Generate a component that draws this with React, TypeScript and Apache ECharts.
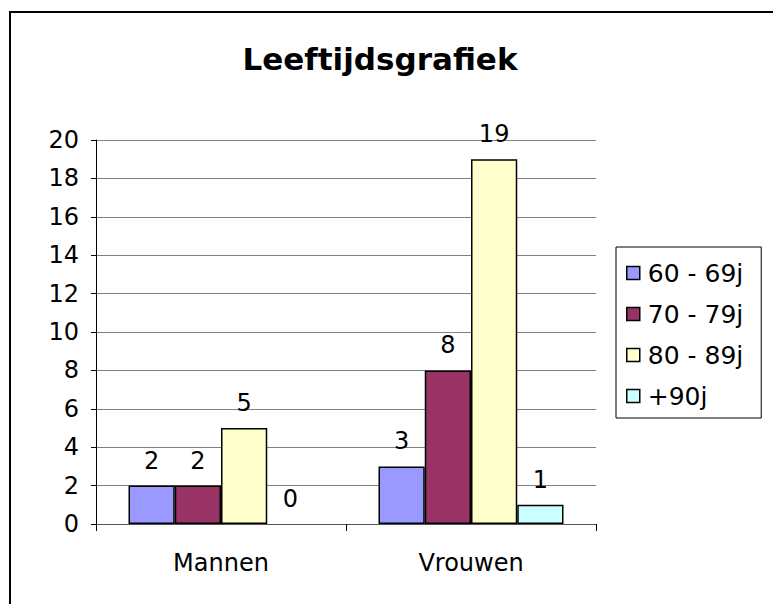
import React, { useEffect, useRef } from "react";
import * as echarts from "echarts";

const title = "Leeftijdsgrafiek";
const categories = ["Mannen", "Vrouwen"];
const seriesNames = ["60 - 69j", "70 - 79j", "80 - 89j", "+90j"];
const values60 = [2, 3];
const values70 = [2, 8];
const values80 = [5, 19];
const values90 = [0, 1];
const seriesColors = ["#9999FF", "#993366", "#FFFFCC", "#CCFFFF"];
const yMin = 0;
const yMax = 20;
const yInterval = 2;

const FONT = "DejaVu Sans, Verdana, sans-serif";

export default function App() {
  const ref = useRef<HTMLDivElement>(null);
  useEffect(() => {
    if (!ref.current) return;
    const chart = echarts.init(ref.current, undefined, { renderer: "svg" });
    const allValues = [values60, values70, values80, values90];
    chart.setOption({
      animation: false,
      backgroundColor: "#ffffff",
      textStyle: { fontFamily: FONT },
      title: {
        text: title,
        left: 375,
        textAlign: "center",
        top: 38,
        textStyle: { fontFamily: FONT, fontSize: 31, fontWeight: "bold", color: "#000" },
      },
      graphic: [
        {
          type: "rect",
          shape: { x: 10, y: 12, width: 900, height: 800 },
          style: { fill: "none", stroke: "#000", lineWidth: 2 },
          silent: true,
          z: 100,
        },
      ],
      legend: {
        orient: "vertical",
        left: 616,
        top: 247,
        data: seriesNames,
        borderColor: "#000",
        borderWidth: 1,
        padding: [12, 18, 8, 10],
        itemWidth: 13,
        itemHeight: 13,
        itemGap: 13,
        icon: "rect",
        itemStyle: { borderColor: "#000", borderWidth: 1.5 },
        textStyle: { fontFamily: FONT, fontSize: 25, color: "#000", lineHeight: 28, padding: [0, 0, 0, 3] },
      },
      grid: { left: 96, top: 140, right: 177, bottom: 80, containLabel: false },
      xAxis: {
        type: "category",
        data: categories,
        axisLine: { show: true, lineStyle: { color: "#555", width: 1 } },
        axisTick: { show: true, length: 7, interval: 0, lineStyle: { color: "#000" } },
        axisLabel: { fontFamily: FONT, fontSize: 24, color: "#000", margin: 27 },
        splitLine: { show: false },
      },
      yAxis: {
        type: "value",
        min: yMin,
        max: yMax,
        interval: yInterval,
        axisLine: { show: true, lineStyle: { color: "#000", width: 1 } },
        axisTick: { show: true, length: 5, lineStyle: { color: "#000" } },
        axisLabel: { fontFamily: FONT, fontSize: 24, color: "#000", margin: 17 },
        splitLine: { show: true, lineStyle: { color: "#808080", width: 1 } },
      },
      series: seriesNames.map((name, i) => ({
        name,
        type: "bar",
        data: allValues[i].map((v) =>
          v === 0 ? { value: v, itemStyle: { borderWidth: 0 } } : v
        ),
        barGap: "0%",
        barCategoryGap: "26%",
        itemStyle: { color: seriesColors[i], borderColor: "#000", borderWidth: 1.5 },
        label: {
          show: true,
          position: "top",
          distance: 13,
          fontFamily: FONT,
          fontSize: 24,
          color: "#000",
        },
      })),
    });
    return () => chart.dispose();
  }, []);
  return (
    <div
      ref={ref}
      style={{ position: "fixed", left: 0, top: 0, width: 773, height: 604 }}
    />
  );
}
